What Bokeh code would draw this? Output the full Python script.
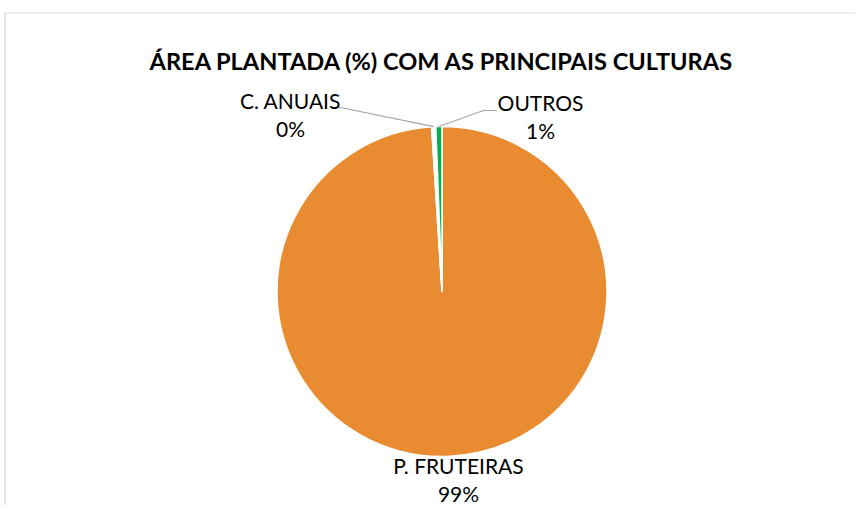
import math
from bokeh.plotting import figure
from bokeh.models import Range1d, ColumnDataSource
from bokeh.embed import file_html
from bokeh.resources import INLINE
from bokeh.core.properties import value

# ---- data ----
title_text = "ÁREA PLANTADA (%) COM AS PRINCIPAIS CULTURAS"
categories = ["P. FRUTEIRAS", "C. ANUAIS", "OUTROS"]
values = [99.0, 0.4, 0.6]
colors = ["#E98B30", "#FFFFFF", "#00B050"]

# ---- layout helpers (picture px -> data units, 1 unit = 1 px) ----
W, H = 855, 505
def X(sx):
    return sx
def Y(sy):
    return H - sy

CX, CY, R = X(441.5), Y(291), 165

p = figure(width=W, height=H, x_range=Range1d(0, W), y_range=Range1d(0, H),
           x_axis_type=None, y_axis_type=None, output_backend="svg",
           toolbar_location=None, min_border=0)
p.grid.visible = False
p.outline_line_color = None
p.background_fill_color = "white"
p.border_fill_color = "white"

# chart-area border (light gray)
p.line(x=[X(4.5), X(4.5), W], y=[0, Y(12.5), Y(12.5)], line_color="#D9D9D9", line_width=1.2)

# wedges, clockwise from 12 o'clock
total = sum(values)
cum = 0.0
starts, ends, mids = [], [], []
for v in values:
    a0 = math.pi / 2 - 2 * math.pi * cum / total
    cum += v
    a1 = math.pi / 2 - 2 * math.pi * cum / total
    starts.append(a0)
    ends.append(a1)
    mids.append((a0 + a1) / 2)

src = ColumnDataSource(dict(cat=categories, val=values, start=starts, end=ends, color=colors))
p.wedge(x=CX, y=CY, radius=R, start_angle="start", end_angle="end", direction="clock",
        fill_color="color", line_color="white", line_width=1.5, source=src)

# leader lines for the two tiny slices
def edge_point(i):
    return CX + R * math.cos(mids[i]), CY + R * math.sin(mids[i])

ex, ey = edge_point(1)
p.line(x=[X(331), X(340), ex], y=[Y(107), Y(107), ey], line_color="#A6A6A6", line_width=1.2)
ex, ey = edge_point(2)
p.line(x=[ex, X(483), X(496)], y=[ey, Y(110), Y(110)], line_color="#A6A6A6", line_width=1.2)

# title
p.text(x=[X(441.5)], y=[Y(60)], text=[title_text], text_font=value("Lato"),
       text_font_style="bold", text_font_size="23.6px", text_align="center",
       text_baseline="alphabetic", text_color="black")

# data labels (anchor positions)
label_pos = [(458, 465), (290, 100), (540, 102)]
for i, (sx, sy) in enumerate(label_pos):
    p.text(x=[X(sx)], y=[Y(sy)], text=[categories[i]], text_font=value("Lato"),
           text_font_size="21px", text_align="center", text_baseline="alphabetic",
           text_color="black")
    p.text(x=[X(sx)], y=[Y(sy + 28)], text=[f"{round(values[i] / total * 100)}%"],
           text_font=value("Lato"), text_font_size="21px", text_align="center",
           text_baseline="alphabetic", text_color="black")

open("out.html", "w").write(file_html(p, INLINE))
